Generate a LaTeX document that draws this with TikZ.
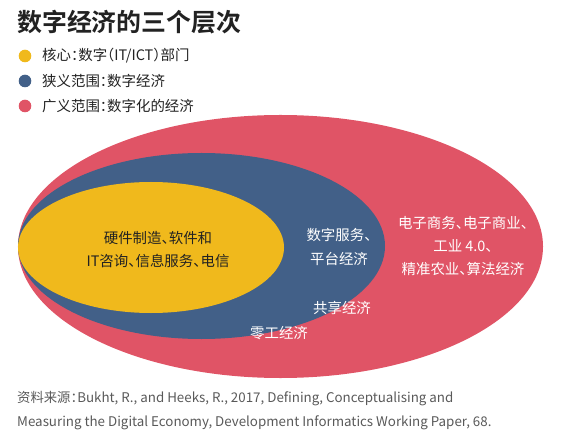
\documentclass[tikz,border=0pt]{standalone}
\usepackage{fontspec}
\setmainfont{Noto Sans CJK SC}[RawFeature=+halt]
\newfontfamily\titlefont{Noto Sans CJK SC Bold}
\usetikzlibrary{shapes.geometric}
\definecolor{cred}{HTML}{E05466}
\definecolor{cblue}{HTML}{426088}
\definecolor{cyellow}{HTML}{F0B91C}
\definecolor{ctext}{HTML}{222222}
\definecolor{csrc}{HTML}{595959}
\tikzset{
  ring/.style={ellipse, inner sep=0pt, outer sep=0pt, draw=none},
  dot/.style={circle, inner sep=0pt, minimum size=12.6bp},
  legtext/.style={anchor=west, inner sep=0pt, text=ctext, font=\fontsize{14.5}{18}\selectfont},
  intext/.style={align=center, inner sep=0pt, font=\fontsize{14.5}{23.5}\selectfont},
}
\begin{document}
\begin{tikzpicture}[x=1bp,y=-1bp]
\useasboundingbox (0,0) rectangle (570,445);
% title
\node[anchor=west, inner sep=0pt, text=ctext, font=\titlefont\fontsize{25}{28}\selectfont] (title) at (17,22) {数字经济的三个层次};
% legend
\node[dot, fill=cyellow] (d1) at (25,56) {};
\node[dot, fill=cblue] (d2) at (25,81) {};
\node[dot, fill=cred] (d3) at (25,106) {};
\node[legtext] (l1) at (42,56) {核心：数字（IT/ICT）部门};
\node[legtext] (l2) at (42,81) {狭义范围：数字经济};
\node[legtext] (l3) at (42,106) {广义范围：数字化的经济};
% ellipses
\node[ring, fill=cred, minimum width=525bp, minimum height=263bp] (red) at (280.5,246.5) {};
\node[ring, fill=cblue, minimum width=367bp, minimum height=186bp] (blue) at (201.5,246) {};
\node[ring, fill=cyellow, minimum width=266bp, minimum height=131bp] (yellow) at (151,247.5) {};
% texts
\node[intext, text=ctext] (t1) at (158,249.5) {硬件制造、软件和\\IT咨询、信息服务、电信};
\node[intext, text=white] (t2) at (339,247) {数字服务、\\平台经济};
\node[intext, text=white] (t3) at (342,308) {共享经济};
\node[intext, text=white] (t4) at (279,333) {零工经济};
\node[intext, text=white] (t5) at (463,246) {电子商务、电子商业、\\工业 4.0、\\精准农业、算法经济};
% source
\node[anchor=west, align=left, inner sep=0pt, text=csrc, font=\fontsize{13.4}{23.5}\selectfont] (src) at (17,410.5) {资料来源：Bukht, R., and Heeks, R., 2017, Defining, Conceptualising and\\Measuring the Digital Economy, Development Informatics Working Paper, 68.};
\end{tikzpicture}
\end{document}
